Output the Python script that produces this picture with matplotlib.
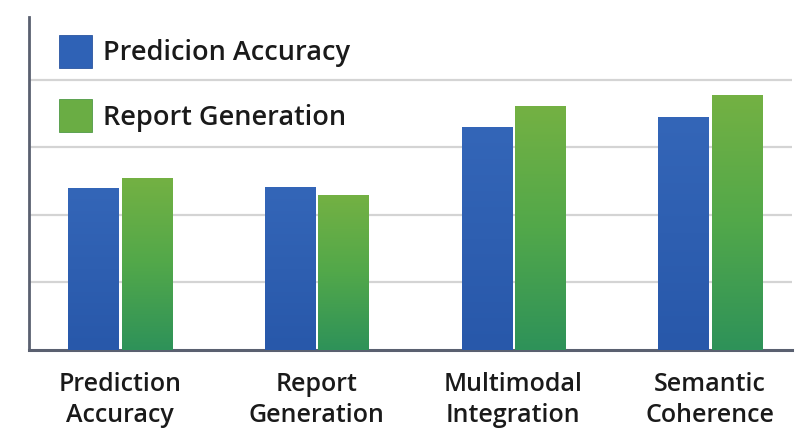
import matplotlib.pyplot as plt
import numpy as np
from matplotlib.colors import LinearSegmentedColormap

# data (no y scale shown, units are gridline steps)
categories = ['Prediction\nAccuracy', 'Report\nGeneration', 'Multimodal\nIntegration', 'Semantic\nCoherence']
series_names = ['Predicion Accuracy', 'Report Generation']
blue_values = [2.40, 2.41, 3.30, 3.45]
green_values = [2.55, 2.30, 3.61, 3.78]

plt.rcParams['font.family'] = ['Open Sans', 'DejaVu Sans']

fig = plt.figure(figsize=(8, 4.47), dpi=100)
ax = fig.add_axes([29 / 800, 97 / 447, 763 / 800, 333 / 447])

x = np.arange(len(categories))
width = 0.255
gap = 0.008

blue_bars = ax.bar(x - width / 2 - gap, blue_values, width, color='#2f62b6',
                   edgecolor='#2a55a0', linewidth=0.6, label=series_names[0], zorder=3)
green_bars = ax.bar(x + width / 2 + gap, green_values, width, color='#6aad44',
                    edgecolor='#4f9a45', linewidth=0.6, label=series_names[1], zorder=3)

# vertical gradient fill clipped to each bar
blue_cmap = LinearSegmentedColormap.from_list('b', ['#2858aa', '#3466b8'])
green_cmap = LinearSegmentedColormap.from_list('g', ['#2e9259', '#52a84a', '#74b143'])
grad = np.linspace(0, 1, 256).reshape(-1, 1)
for bars, cmap in [(blue_bars, blue_cmap), (green_bars, green_cmap)]:
    for bar in bars:
        x0, y0 = bar.get_x(), bar.get_y()
        im = ax.imshow(grad, cmap=cmap, aspect='auto', origin='lower',
                       extent=[x0, x0 + bar.get_width(), y0, y0 + bar.get_height()],
                       zorder=3.5)
        im.set_clip_path(bar)

ax.set_xlim(-0.463, 3.417)
ax.set_ylim(0, 4.93)

ax.set_yticks([1, 2, 3, 4])
ax.set_yticklabels([])
ax.tick_params(axis='y', length=0)
ax.grid(axis='y', color='#d4d4d4', linewidth=1.6, zorder=0)

ax.set_xticks(x)
ax.set_xticklabels(categories, fontsize=18, fontweight='semibold', color='#1a1a1a',
                   linespacing=1.3)
ax.tick_params(axis='x', length=0, pad=16)

for side in ['top', 'right']:
    ax.spines[side].set_visible(False)
ax.spines['left'].set_color('#5a6070')
ax.spines['left'].set_linewidth(2)
ax.spines['bottom'].set_color('#5a6070')
ax.spines['bottom'].set_linewidth(2.2)

leg = ax.legend(loc='upper left', bbox_to_anchor=(0.039, 0.946), frameon=False,
                prop={'size': 19.5, 'weight': 'semibold'}, borderpad=0,
                handlelength=1.22, handleheight=1.5, handletextpad=0.4,
                labelspacing=1.15, borderaxespad=0)
for txt in leg.get_texts():
    txt.set_color('#1a1a1a')

fig.savefig('out.png', dpi=100)
